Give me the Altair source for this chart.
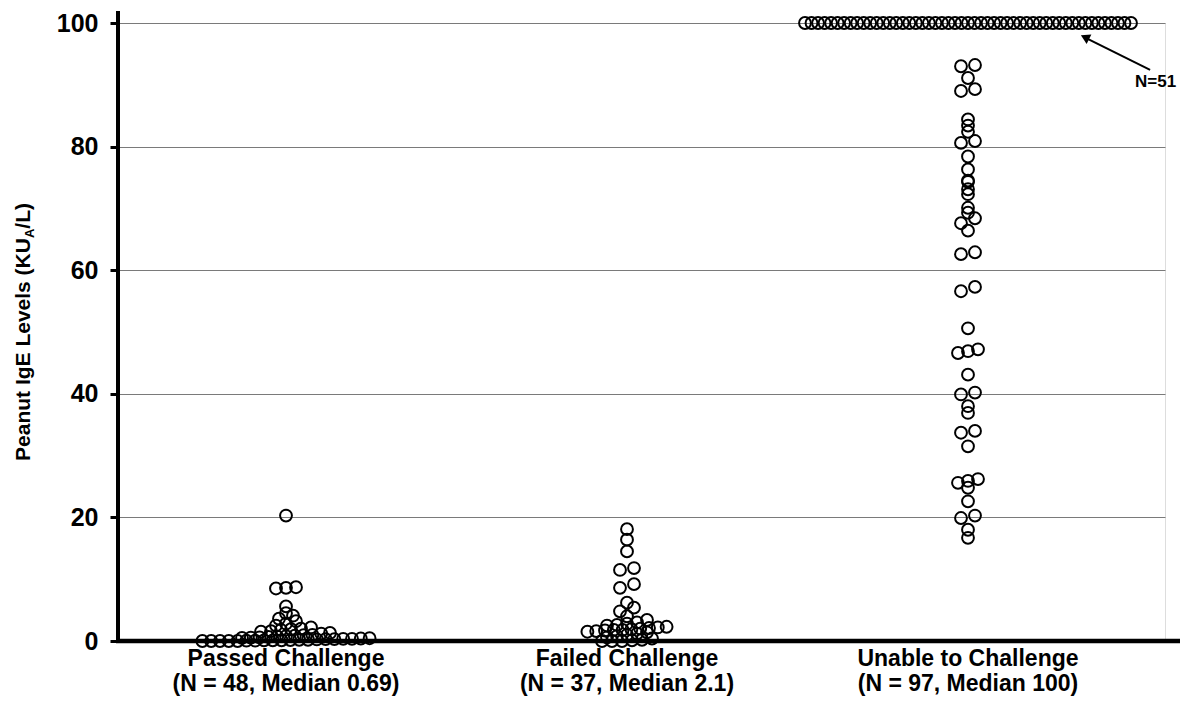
import math
import altair as alt
import pandas as pd

# ---------------- data ----------------
categories = ["Passed Challenge", "Failed Challenge", "Unable to Challenge"]
subtitles = ["(N = 48, Median 0.69)", "(N = 37, Median 2.1)", "(N = 97, Median 100)"]

passed = [20.3, 8.5, 8.6, 8.7, 5.6, 4.5, 4.1, 3.6, 3.2, 2.8,
          2.5, 2.2, 2.0, 1.9, 1.8, 1.6, 1.5, 1.3, 1.2, 1.0,
          0.95, 0.85, 0.8, 0.72, 0.66, 0.6, 0.55, 0.5, 0.45, 0.4,
          0.35, 0.35, 0.3, 0.3, 0.25, 0.2, 0.2, 0.15, 0.1, 0.1,
          0.1, 0.05, 0.05, 0.0, 0.0, 0.0, 0.0, 0.0]

failed = [18.1, 16.4, 14.5, 11.8, 11.5, 9.2, 8.6, 6.2, 5.4, 4.8,
          4.0, 3.4, 3.0, 2.8, 2.6, 2.5, 2.3, 2.2, 2.1, 2.0,
          1.9, 1.8, 1.8, 1.7, 1.6, 1.5, 1.4, 1.2, 1.0, 0.8,
          0.6, 0.4, 0.2, 0.1, 0.0, 0.0, 0.0]

unable = [100, 100, 100, 100, 100, 100, 100, 100, 100, 100,
          100, 100, 100, 100, 100, 100, 100, 100, 100, 100,
          100, 100, 100, 100, 100, 100, 100, 100, 100, 100,
          100, 100, 100, 100, 100, 100, 100, 100, 100, 100,
          100, 100, 100, 100, 100, 100, 100, 100, 100, 100,
          100,
          93.0, 93.2, 91.1, 89.0, 89.3, 84.4, 83.4, 82.4, 80.6, 80.9,
          78.4, 76.3, 74.3, 74.5, 73.1, 72.3, 70.1, 69.3, 68.4, 67.6,
          66.4, 62.6, 62.9, 56.6, 57.3, 50.6, 46.6, 46.9, 47.2, 43.1,
          39.9, 40.2, 38.0, 36.9, 33.7, 34.0, 31.5, 24.8, 25.6, 25.9,
          26.2, 22.6, 19.9, 20.3, 18.0, 16.7]

groups = [passed, failed, unable]

annot_label = "N=51"

# ---------------- layout helpers ----------------
PLOT_W = 1047
PLOT_H = 618
PX_PER_CAT = 341.0          # pixel distance between category centres
X_DOMAIN = [-168 / PX_PER_CAT, (PLOT_W - 168) / PX_PER_CAT]
BIN = 1.0                    # values within one unit share a row


def row_spacing(n):
    if n <= 1:
        return 0.0
    if n == 2:
        return 14.0
    if n <= 8:
        return 10.0
    if n <= 25:
        return 8.8
    return 326.0 / (n - 1)


def swarm(values, idx):
    rows = {}
    for i, v in enumerate(values):
        rows.setdefault(math.floor(v / BIN + 0.5), []).append(i)
    out = []
    for key, members in rows.items():
        n = len(members)
        s = row_spacing(n)
        for j, i in enumerate(sorted(members, key=lambda k: values[k])):
            off_px = (j - (n - 1) / 2.0) * s
            out.append({"x": idx + off_px / PX_PER_CAT, "y": values[i],
                        "group": categories[idx]})
    return out


rows = []
for gi, vals in enumerate(groups):
    rows.extend(swarm(vals, gi))
points_df = pd.DataFrame(rows)

labels_df = pd.DataFrame({"x": [0, 1, 2], "line1": categories, "line2": subtitles})

FONT = "Liberation Sans"

xscale = alt.Scale(domain=X_DOMAIN, nice=False, zero=False)
yscale = alt.Scale(domain=[0, 100], nice=False)

points = alt.Chart(points_df).mark_point(
    shape="circle", filled=False, size=140, strokeWidth=2.0,
    color="black", opacity=1
).encode(
    x=alt.X("x:Q", scale=xscale, axis=None),
    y=alt.Y("y:Q", scale=yscale, axis=alt.Axis(
        values=[0, 20, 40, 60, 80, 100], grid=True, gridColor="#7a7a7a",
        gridWidth=1, domain=False, ticks=True, tickSize=8, tickWidth=3,
        tickColor="black", labelFont=FONT, labelFontSize=25,
        labelFontWeight="bold", labelColor="black", labelPadding=12,
        title=None)),
)

y_axis_line = alt.Chart(pd.DataFrame({"a": [0]})).mark_rule(
    color="black", strokeWidth=4
).encode(x=alt.value(0), y=alt.value(-12), y2=alt.value(PLOT_H + 2))

x_axis_line = alt.Chart(pd.DataFrame({"a": [0]})).mark_rule(
    color="black", strokeWidth=4.5
).encode(x=alt.value(-2), x2=alt.value(1070), y=alt.value(PLOT_H))

cat1 = alt.Chart(labels_df).mark_text(
    font=FONT, fontSize=23, fontWeight="bold", color="black",
    baseline="alphabetic", align="center"
).encode(x=alt.X("x:Q", scale=xscale), y=alt.value(PLOT_H + 25), text="line1:N")

cat2 = alt.Chart(labels_df).mark_text(
    font=FONT, fontSize=23, fontWeight="bold", color="black",
    baseline="alphabetic", align="center"
).encode(x=alt.X("x:Q", scale=xscale), y=alt.value(PLOT_H + 50), text="line2:N")

# y-axis title with subscript A
TFS = 21
main_w = 10.614 * TFS
sub_w = 0.722 * 13
tail_w = 1.222 * TFS
total = main_w + sub_w + tail_w
y_center = PLOT_H / 2
y_start = y_center + total / 2
y_a = y_start - main_w
title_df = pd.DataFrame({"a": [0]})
t_main = alt.Chart(title_df).mark_text(
    text="Peanut IgE Levels (KU", font=FONT, fontSize=TFS, fontWeight="bold",
    angle=270, align="right", baseline="middle", color="black"
).encode(x=alt.value(-94), y=alt.value(y_a))
t_sub = alt.Chart(title_df).mark_text(
    text="A", font=FONT, fontSize=13, fontWeight="bold",
    angle=270, align="left", baseline="middle", color="black"
).encode(x=alt.value(-88), y=alt.value(y_a))
t_tail = alt.Chart(title_df).mark_text(
    text="/L)", font=FONT, fontSize=TFS, fontWeight="bold",
    angle=270, align="left", baseline="middle", color="black"
).encode(x=alt.value(-94), y=alt.value(y_a - sub_w))

# N=51 annotation with arrow (in data units)
arrow_df = pd.DataFrame({"x": [2.534, 2.345], "y": [92.4, 97.6]})
arrow_line = alt.Chart(arrow_df).mark_line(color="black", strokeWidth=2).encode(
    x=alt.X("x:Q", scale=xscale), y=alt.Y("y:Q", scale=yscale))
head_df = pd.DataFrame({"x": [2.343], "y": [97.7]})
arrow_head = alt.Chart(head_df).mark_point(
    shape="triangle-up", filled=True, size=110, color="black", opacity=1, angle=297
).encode(x=alt.X("x:Q", scale=xscale), y=alt.Y("y:Q", scale=yscale))
note_df = pd.DataFrame({"x": [2.49], "y": [89.6], "t": [annot_label]})
note = alt.Chart(note_df).mark_text(
    font=FONT, fontSize=17, fontWeight="bold", align="left",
    baseline="alphabetic", color="black"
).encode(x=alt.X("x:Q", scale=xscale), y=alt.Y("y:Q", scale=yscale), text="t:N")

chart = alt.layer(
    points, arrow_line, arrow_head, note, y_axis_line, x_axis_line,
    cat1, cat2, t_main, t_sub, t_tail
).properties(
    width=PLOT_W, height=PLOT_H,
    autosize=alt.AutoSizeParams(type="none"),
    padding={"left": 110, "top": 15, "right": 15, "bottom": 57},
).configure_view(stroke=None).configure(background="white")

chart.save("out.html", embed_options={"renderer": "svg", "actions": False})
